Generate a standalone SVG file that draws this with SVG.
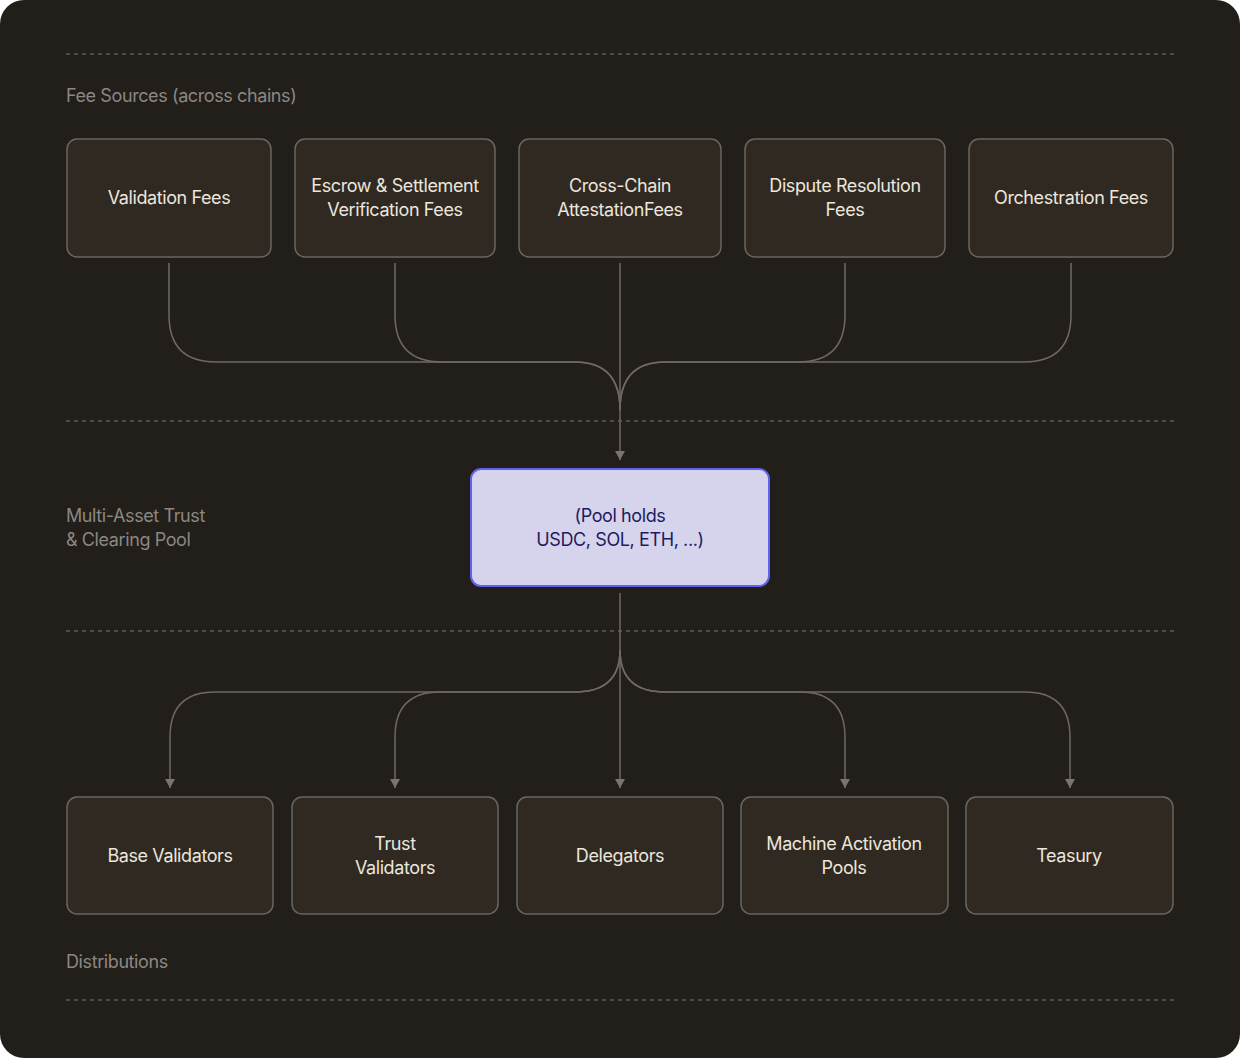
<svg xmlns="http://www.w3.org/2000/svg" width="1240" height="1058" viewBox="0 0 1240 1058">
<defs>
<marker id="ah" viewBox="0 0 10 10" refX="9" refY="5" markerWidth="10" markerHeight="10" markerUnits="userSpaceOnUse" orient="auto"><path d="M0 0 L9 5 L0 10 Z" fill="#7a756f"/></marker>
<style>
.dash{stroke:#5e5953;stroke-width:1.5;stroke-dasharray:4 4;fill:none}
.lbl{font-family:Inter,"Liberation Sans",sans-serif;font-size:18px;fill:#8c8781;letter-spacing:-0.4px}
.box{fill:#2f2922;stroke:#6a655f;stroke-width:1.5}
.t{font-family:Inter,"Liberation Sans",sans-serif;font-size:18px;fill:#ece6dc;text-anchor:middle;letter-spacing:-0.4px}
.c{stroke:#6e6963;stroke-width:1.5;fill:none}
</style>
</defs>
<rect width="1240" height="1058" rx="24" fill="#221e1a"/>
<line class="dash" x1="66" y1="54" x2="1174" y2="54"/>
<line class="dash" x1="66" y1="421" x2="1174" y2="421"/>
<line class="dash" x1="66" y1="631" x2="1174" y2="631"/>
<line class="dash" x1="66" y1="1000" x2="1174" y2="1000"/>
<text class="lbl" x="66" y="102">Fee Sources (across chains)</text>
<text class="lbl" x="66" y="522">Multi-Asset Trust</text>
<text class="lbl" x="66" y="546">&amp; Clearing Pool</text>
<text class="lbl" x="66" y="968">Distributions</text>
<g id="connectors">
<path class="c" d="M169 263 V315 Q169 362 216 362 H575 Q620 362 620 410"/>
<path class="c" d="M395 263 V315 Q395 362 442 362 H575 Q620 362 620 410"/>
<path class="c" d="M845 263 V315 Q845 362 798 362 H665 Q620 362 620 410"/>
<path class="c" d="M1071 263 V315 Q1071 362 1024 362 H665 Q620 362 620 410"/>
<path class="c" d="M620 263 V460" marker-end="url(#ah)"/>
<path class="c" d="M620 593 V788" marker-end="url(#ah)"/>
<path class="c" d="M620 650 Q620 692 575 692 H215 Q170 692 170 737 V788" marker-end="url(#ah)"/>
<path class="c" d="M620 650 Q620 692 575 692 H440 Q395 692 395 737 V788" marker-end="url(#ah)"/>
<path class="c" d="M620 650 Q620 692 665 692 H800 Q845 692 845 737 V788" marker-end="url(#ah)"/>
<path class="c" d="M620 650 Q620 692 665 692 H1025 Q1070 692 1070 737 V788" marker-end="url(#ah)"/>
</g>
<g id="n1"><rect class="box" x="67" y="139" width="204" height="118" rx="10"/><text class="t" x="169" y="204">Validation Fees</text></g>
<g id="n2"><rect class="box" x="295" y="139" width="200" height="118" rx="10"/><text class="t" x="395" y="192">Escrow &amp; Settlement</text><text class="t" x="395" y="216">Verification Fees</text></g>
<g id="n3"><rect class="box" x="519" y="139" width="202" height="118" rx="10"/><text class="t" x="620" y="192">Cross-Chain</text><text class="t" x="620" y="216">AttestationFees</text></g>
<g id="n4"><rect class="box" x="745" y="139" width="200" height="118" rx="10"/><text class="t" x="845" y="192">Dispute Resolution</text><text class="t" x="845" y="216">Fees</text></g>
<g id="n5"><rect class="box" x="969" y="139" width="204" height="118" rx="10"/><text class="t" x="1071" y="204">Orchestration Fees</text></g>
<g id="pool"><rect x="471" y="469" width="298" height="117" rx="10" fill="#d6d4ec" stroke="#5e62f0" stroke-width="2"/><text class="t" x="620" y="522" style="fill:#1e1b5e">(Pool holds</text><text class="t" x="620" y="546" style="fill:#1e1b5e">USDC, SOL, ETH, ...)</text></g>
<g id="d1"><rect class="box" x="67" y="797" width="206" height="117" rx="10"/><text class="t" x="170" y="862">Base Validators</text></g>
<g id="d2"><rect class="box" x="292" y="797" width="206" height="117" rx="10"/><text class="t" x="395" y="850">Trust</text><text class="t" x="395" y="874">Validators</text></g>
<g id="d3"><rect class="box" x="517" y="797" width="206" height="117" rx="10"/><text class="t" x="620" y="862">Delegators</text></g>
<g id="d4"><rect class="box" x="741" y="797" width="207" height="117" rx="10"/><text class="t" x="844" y="850">Machine Activation</text><text class="t" x="844" y="874">Pools</text></g>
<g id="d5"><rect class="box" x="966" y="797" width="207" height="117" rx="10"/><text class="t" x="1069" y="862">Teasury</text></g>
</svg>
